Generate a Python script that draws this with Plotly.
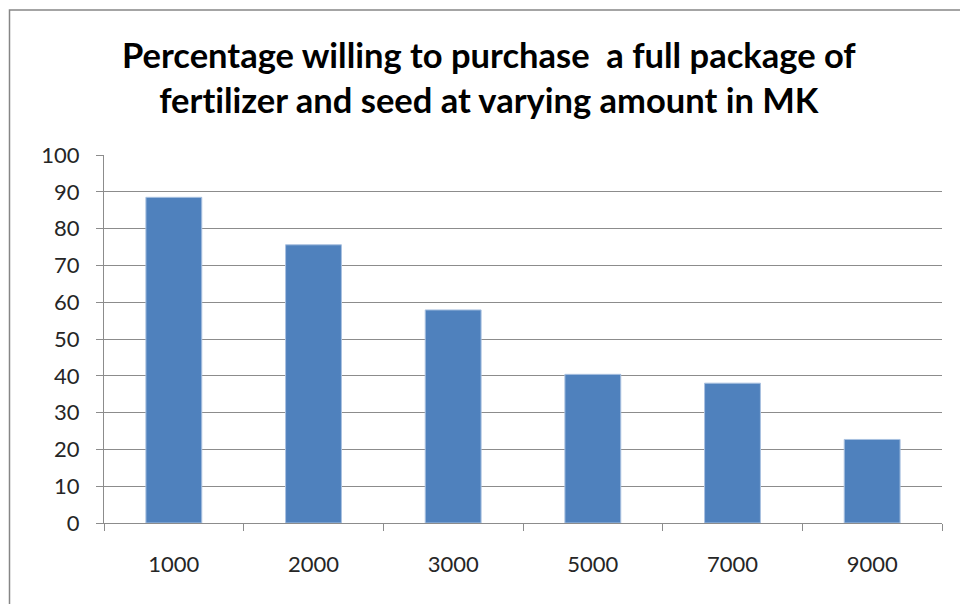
import plotly.graph_objects as go

# Purchase price in MK and share of respondents willing to buy at that price
prices = ["1000", "2000", "3000", "5000", "7000", "9000"]
willing_pct = [88.5, 75.6, 57.9, 40.4, 38.0, 22.7]
y_ticks = [0, 10, 20, 30, 40, 50, 60, 70, 80, 90, 100]

# a zero-width non-joiner keeps Lato from fusing "ti" into a ligature
title_text = ("Percentage willing to purchase  a full package of<br>"
              "fert\u200cilizer and seed at varying amount in MK")

W, H = 960, 604
L, R, T, B = 104, 18, 155, 81
plot_w = W - L - R
plot_h = H - T - B

def px_x(px):
    return (px - L) / plot_w

def px_y(py):
    return (H - B - py) / plot_h

fig = go.Figure(
    go.Bar(
        x=prices,
        y=willing_pct,
        marker=dict(color="#4F81BD", line=dict(color="#A9C1E0", width=1)),
        hoverinfo="x+y",
    )
)

grid_col = "#8C8C8C"
tick_font = dict(family="Lato", size=22, color="#262626")

fig.update_layout(
    width=W,
    height=H,
    autosize=False,
    margin=dict(l=L, r=R, t=T, b=B, pad=0),
    paper_bgcolor="white",
    plot_bgcolor="white",
    bargap=0.6,
    showlegend=False,
    xaxis=dict(
        type="category",
        showgrid=False,
        showline=True,
        linecolor=grid_col,
        linewidth=1,
        ticks="outside",
        tickson="boundaries",
        ticklen=7,
        tickcolor=grid_col,
        tickfont=tick_font,
        ticklabelstandoff=22,
    ),
    yaxis=dict(
        range=[0, 100],
        tickvals=y_ticks,
        showgrid=True,
        gridcolor=grid_col,
        gridwidth=1,
        showline=True,
        linecolor=grid_col,
        linewidth=1,
        ticks="outside",
        ticklen=7,
        tickcolor=grid_col,
        tickfont=tick_font,
        ticklabelstandoff=12,
        zeroline=False,
    ),
    annotations=[
        dict(
            text=title_text,
            xref="paper", yref="paper",
            x=px_x(489), y=px_y(32),
            xanchor="center", yanchor="top",
            showarrow=False,
            align="center",
            font=dict(family="Lato", size=34.5, color="#000000", weight="bold"),
        )
    ],
    shapes=[
        dict(
            type="rect",
            xref="paper", yref="paper",
            x0=px_x(9.5), x1=px_x(990),
            y0=px_y(640), y1=px_y(10),
            line=dict(color="#868686", width=1.5),
            fillcolor="rgba(0,0,0,0)",
            layer="below",
        )
    ],
)

fig.write_html("out.html")
